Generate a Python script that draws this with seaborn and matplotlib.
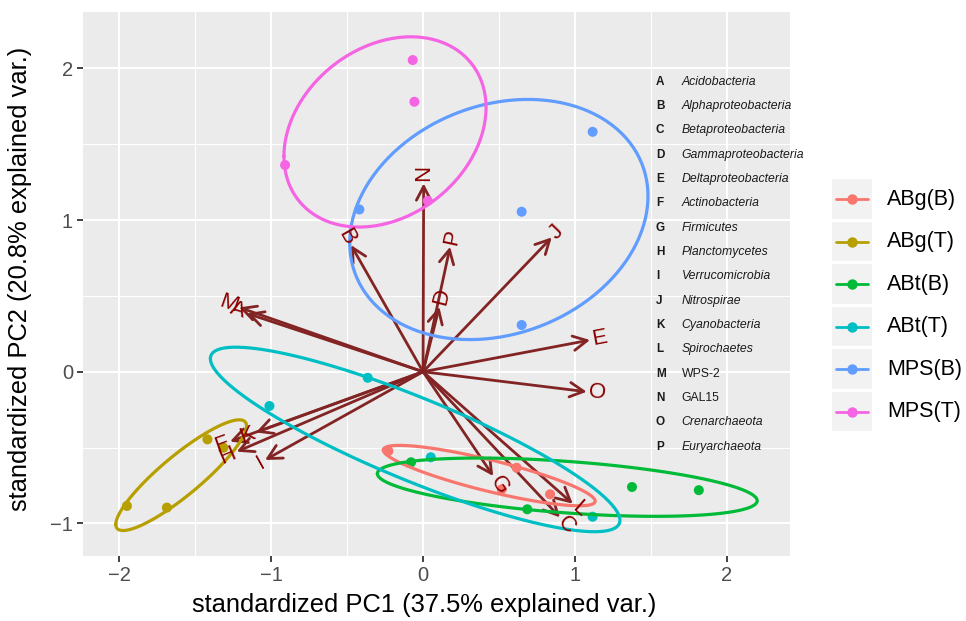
import numpy as np
import pandas as pd
import matplotlib
matplotlib.use("Agg")
import matplotlib.pyplot as plt
import seaborn as sns
from matplotlib.patches import Rectangle
from matplotlib.lines import Line2D

# ---------------- data ----------------
groups = ["ABg(B)", "ABg(T)", "ABt(B)", "ABt(T)", "MPS(B)", "MPS(T)"]
palette = ["#F8766D", "#B79F00", "#00BA38", "#00BFC4", "#619CFF", "#F564E3"]

pc1_abg_b = [-0.228, 0.616, 0.836, 0.518]
pc2_abg_b = [-0.523, -0.633, -0.808, -0.775]
pc1_abg_t = [-1.419, -1.314, -1.949, -1.686]
pc2_abg_t = [-0.446, -0.501, -0.885, -0.896]
pc1_abt_b = [-0.079, 0.686, 1.375, 1.815]
pc2_abt_b = [-0.597, -0.907, -0.760, -0.781]
pc1_abt_t = [-0.364, -1.011, 0.051, 1.116]
pc2_abt_t = [-0.040, -0.226, -0.564, -0.956]
pc1_mps_b = [-0.419, 0.649, 1.116, 0.649]
pc2_mps_b = [1.070, 1.055, 1.582, 0.308]
pc1_mps_t = [-0.068, -0.057, -0.908, 0.031]
pc2_mps_t = [2.055, 1.780, 1.363, 1.127]

var_letters = list("ABCDEFGHIJKLMNOP")
var_names = ["Acidobacteria", "Alphaproteobacteria", "Betaproteobacteria",
             "Gammaproteobacteria", "Deltaproteobacteria", "Actinobacteria",
             "Firmicutes", "Planctomycetes", "Verrucomicrobia", "Nitrospirae",
             "Cyanobacteria", "Spirochaetes", "WPS-2", "GAL15",
             "Crenarchaeota", "Euryarchaeota"]
var_italic = [True] * 12 + [False, False, True, True]
arrow_x = [-1.160, -0.474, 0.901, 0.107, 1.099, -1.270, 0.462, -1.226,
           -1.040, 0.847, -1.100, 0.985, -1.210, 0.004, 1.077, 0.178]
arrow_y = [0.385, 0.835, -0.960, 0.428, 0.209, -0.460, -0.688, -0.527,
           -0.582, 0.886, -0.400, -0.870, 0.424, 1.242, -0.132, 0.824]

x_label = "standardized PC1 (37.5% explained var.)"
y_label = "standardized PC2 (20.8% explained var.)"

pc1_all = [pc1_abg_b, pc1_abg_t, pc1_abt_b, pc1_abt_t, pc1_mps_b, pc1_mps_t]
pc2_all = [pc2_abg_b, pc2_abg_t, pc2_abt_b, pc2_abt_t, pc2_mps_b, pc2_mps_t]

pts = pd.DataFrame({
    "PC1": np.concatenate(pc1_all),
    "PC2": np.concatenate(pc2_all),
    "group": np.repeat(groups, [len(v) for v in pc1_all]),
})


def ellipse(x, y, prob=0.68, n=120):
    xy = np.column_stack([x, y])
    mu = xy.mean(axis=0)
    sigma = np.cov(xy.T)
    ed = np.sqrt(-2 * np.log(1 - prob))
    th = np.linspace(-np.pi, np.pi, n)
    circ = np.column_stack([np.cos(th), np.sin(th)])
    L = np.linalg.cholesky(sigma)
    return circ @ L.T * ed + mu


ell_frames = []
for g, x, y in zip(groups, pc1_all, pc2_all):
    e = ellipse(np.array(x), np.array(y))
    ell_frames.append(pd.DataFrame({"PC1": e[:, 0], "PC2": e[:, 1], "group": g}))
ell = pd.concat(ell_frames, ignore_index=True)

# ---------------- style ----------------
sns.set_theme(style="darkgrid")
plt.rcParams["font.family"] = ["Liberation Sans", "DejaVu Sans"]
plt.rcParams["axes.facecolor"] = "#EBEBEB"

W, H = 966, 621
fig = plt.figure(figsize=(W / 100, H / 100), dpi=100)
fig.patch.set_facecolor("white")
L0, R0, T0, B0 = 82.7, 790.0, 12.3, 556.0
ax = fig.add_axes([L0 / W, 1 - B0 / H, (R0 - L0) / W, (B0 - T0) / H])
ax.set_facecolor("#EBEBEB")

# arrows
arrow_col = "#832424"
for x, y in zip(arrow_x, arrow_y):
    ax.annotate("", xy=(x, y), xytext=(0, 0),
                arrowprops=dict(arrowstyle="->,head_length=0.5,head_width=0.26",
                                color=arrow_col, lw=2.0, shrinkA=0, shrinkB=0,
                                mutation_scale=20), zorder=2)

# points
sns.scatterplot(data=pts, x="PC1", y="PC2", hue="group", hue_order=groups,
                palette=palette, s=52, linewidth=0, legend=False, ax=ax, zorder=3)

# ellipses
sns.lineplot(data=ell, x="PC1", y="PC2", hue="group", hue_order=groups,
             palette=palette, sort=False, estimator=None, units="group",
             linewidth=2.3, legend=False, ax=ax, zorder=4)

ax.set_xlim(-2.24, 2.415)
ax.set_ylim(-1.215, 2.37)
ax.set_xticks([-2, -1, 0, 1, 2])
ax.set_yticks([-1, 0, 1, 2])
ax.set_xticks([-1.5, -0.5, 0.5, 1.5], minor=True)
ax.set_yticks([-0.5, 0.5, 1.5], minor=True)
ax.grid(which="major", color="white", linewidth=1.5)
ax.grid(which="minor", color="white", linewidth=0.75)
ax.set_axisbelow(True)
for s in ax.spines.values():
    s.set_visible(False)
ax.tick_params(which="major", length=4, width=1.3, color="#333333",
               labelsize=14.5, labelcolor="#4D4D4D", pad=3, bottom=True, left=True)
ax.tick_params(which="minor", length=0)

# variable labels
for lab, x, y in zip(var_letters, arrow_x, arrow_y):
    ang = np.degrees(np.arctan2(y, x))
    rot = ang + 180 if x < 0 else ang
    ha = "right" if x < 0 else "left"
    d = np.hypot(x, y)
    off = 1.5
    ax.annotate(lab, xy=(x, y), xytext=(off * x / d, off * y / d),
                textcoords="offset points", rotation=rot, rotation_mode="anchor",
                ha=ha, va="center", fontsize=16, color="#8B0000", zorder=5)

# letter/name key inside panel
key_x_letter, key_x_name = 1.533, 1.702
key_y0, key_dy = 1.912, 0.1604
for i, (lt, nm, it) in enumerate(zip(var_letters, var_names, var_italic)):
    yy = key_y0 - i * key_dy
    ax.text(key_x_letter, yy, lt, fontsize=8.5, fontweight="bold",
            color="#1A1A1A", va="center", ha="left", zorder=5)
    ax.text(key_x_name, yy, nm, fontsize=8.8, style="italic" if it else "normal",
            color="#1A1A1A", va="center", ha="left", zorder=5)

ax.set_xlabel(x_label, fontsize=18.4, color="black")
ax.set_ylabel(y_label, fontsize=18.4, color="black")
bb = ax.get_position()
ax.xaxis.set_label_coords((424 / W - bb.x0) / bb.width,
                          ((1 - 605 / H) - bb.y0) / bb.height)
ax.yaxis.set_label_coords((20 / W - bb.x0) / bb.width,
                          ((1 - 279 / H) - bb.y0) / bb.height)
ax.xaxis.label.set_va("center")
ax.yaxis.label.set_va("center")

# legend (manual, ggplot-like keys)
row0, pitch, kh = 179.3, 42.5, 39.5
kx0, kx1 = 831.7, 871.7
for i, (g, c) in enumerate(zip(groups, palette)):
    top = row0 + i * pitch
    fig.add_artist(Rectangle((kx0 / W, 1 - (top + kh) / H), (kx1 - kx0) / W, kh / H,
                             transform=fig.transFigure, facecolor="#F2F2F2",
                             edgecolor="none"))
    yc = 1 - (top + kh / 2) / H
    fig.add_artist(Line2D([835.5 / W, 868 / W], [yc, yc], transform=fig.transFigure,
                          color=c, linewidth=2.0))
    fig.add_artist(Line2D([851.7 / W], [yc], transform=fig.transFigure, marker="o",
                          markersize=7.5, markerfacecolor=c, markeredgewidth=0,
                          color=c))
    fig.text(887 / W, yc, g, fontsize=15.5, va="center", ha="left", color="black")

fig.savefig("out.png", dpi=100)
